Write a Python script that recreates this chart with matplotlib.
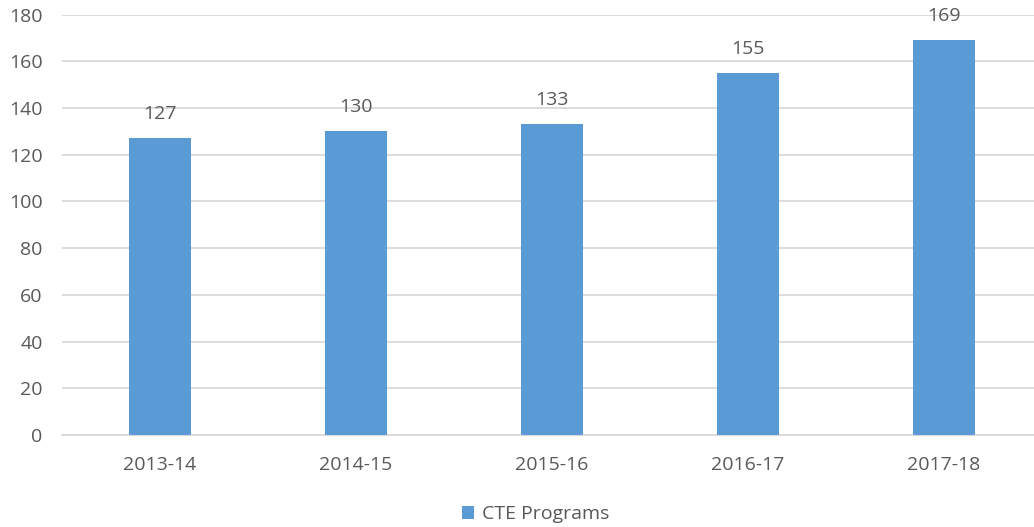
import matplotlib.pyplot as plt
import numpy as np

years = ['2013-14', '2014-15', '2015-16', '2016-17', '2017-18']
cte_programs = [127, 130, 133, 155, 169]

bar_color = '#5B9BD5'
text_color = '#595959'
grid_color = '#D9D9D9'

plt.rcParams['font.family'] = ['Open Sans', 'DejaVu Sans']

fig = plt.figure(figsize=(10.34, 5.27), dpi=100)
ax = fig.add_axes([62 / 1034, 92 / 527, 980 / 1034, 420.5 / 527])

x = np.arange(len(years))
bars = ax.bar(x, cte_programs, width=0.316, color=bar_color, label='CTE Programs', zorder=3)

for xi, v in zip(x, cte_programs):
    ax.annotate(str(v), (xi, v), xytext=(0, 11), textcoords='offset points',
                ha='center', va='bottom', fontsize=14, color=text_color)

ax.set_xlim(-0.5, 4.5)
ax.set_ylim(0, 180)
ax.set_yticks(range(0, 181, 20))
ax.set_xticks(x)
ax.set_xticklabels(years)
ax.yaxis.grid(True, color=grid_color, linewidth=1.3, zorder=0)
for s in ['top', 'right', 'left']:
    ax.spines[s].set_visible(False)
ax.spines['bottom'].set_color(grid_color)
ax.spines['bottom'].set_linewidth(1.3)
ax.tick_params(axis='both', length=0, colors=text_color, labelsize=14)
ax.tick_params(axis='y', pad=14)
ax.tick_params(axis='x', pad=15)

fig.legend(handles=[bars], labels=['CTE Programs'], loc='center', bbox_to_anchor=(0.518, 0.024),
           frameon=False, fontsize=14, labelcolor=text_color, handlelength=0.6, handleheight=0.6,
           handletextpad=0.4)

fig.savefig('out.png', dpi=100)
